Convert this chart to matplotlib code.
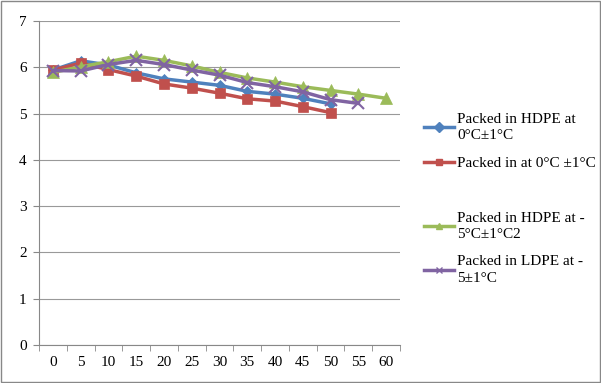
import matplotlib
matplotlib.use("Agg")
import matplotlib.pyplot as plt
from matplotlib.lines import Line2D
from matplotlib.patches import Rectangle

plt.rcParams["font.family"] = ["Liberation Serif", "DejaVu Serif"]

days = [0, 5, 10, 15, 20, 25, 30, 35, 40, 45, 50, 55, 60]
hdpe_0 = [5.94, 6.14, 6.05, 5.88, 5.75, 5.68, 5.61, 5.48, 5.42, 5.33, 5.21]
other_0 = [5.94, 6.09, 5.95, 5.81, 5.64, 5.55, 5.44, 5.32, 5.27, 5.15, 5.02]
hdpe_m5 = [5.89, 6.01, 6.12, 6.24, 6.15, 6.03, 5.89, 5.77, 5.68, 5.58, 5.50, 5.42, 5.33]
ldpe_m5 = [5.93, 5.92, 6.06, 6.15, 6.06, 5.94, 5.83, 5.67, 5.58, 5.47, 5.30, 5.22]

labels = ["Packed in HDPE at\n0°C±1°C", "Packed in at 0°C ±1°C",
          "Packed in HDPE at -\n5°C±1°C2", "Packed in LDPE at -\n5±1°C"]
series = [hdpe_0, other_0, hdpe_m5, ldpe_m5]
colors = ["#4F81BD", "#C0504D", "#9BBB59", "#8064A2"]
markers = ["D", "s", "^", "x"]
msizes = [5, 7, 8, 8]

fig = plt.figure(figsize=(6.01, 3.83), dpi=100)
ax = fig.add_axes([39 / 601, 1 - 345 / 383, 361 / 601, 324 / 383])

for vals, c, m, ms in zip(series, colors, markers, msizes):
    ax.plot(range(len(vals)), vals, color=c, lw=2.5, marker=m, ms=ms,
            mec=c, mfc=c, mew=1.5 if m == "x" else 0.5, zorder=3)

ax.set_xlim(-0.5, len(days) - 0.5)
ax.set_ylim(0, 7)
ax.set_yticks(range(8))
ax.set_xticks(range(len(days)))
ax.set_xticklabels([str(d) for d in days])
ax.set_xticks([i - 0.5 for i in range(len(days) + 1)], minor=True)
ax.tick_params(axis="x", which="major", length=0, pad=8, labelsize=11)
ax.tick_params(axis="x", which="minor", length=4, color="#888888")
ax.tick_params(axis="y", length=4, color="#888888", labelsize=11, pad=5)
ax.grid(axis="y", color="#999999", lw=0.8)
ax.set_axisbelow(True)
for s in ["top", "right"]:
    ax.spines[s].set_visible(False)
for s in ["left", "bottom"]:
    ax.spines[s].set_color("#888888")

handles = []
for c, m, lab in zip(colors, markers, labels):
    handles.append(Line2D([], [], color=c, lw=2.5, marker=m, ms=5, mec=c, mfc=c,
                          label=lab))
spacer = Line2D([], [], color="none", label=" ")
handles = handles[:2] + [spacer] + handles[2:]
leg = fig.legend(handles=handles, loc="upper left",
                 bbox_to_anchor=(410 / 601, 1 - 99 / 383),
                 frameon=False, prop={"size": 11}, handlelength=2.0,
                 handletextpad=0.2, labelspacing=0.92)
for t in leg.get_texts():
    t.set_linespacing(1.35)

fig.patches.append(Rectangle((0.001, 0.002), 0.997, 0.995, transform=fig.transFigure,
                             fill=False, edgecolor="#888888", lw=1))

fig.savefig("out.png", dpi=100)
